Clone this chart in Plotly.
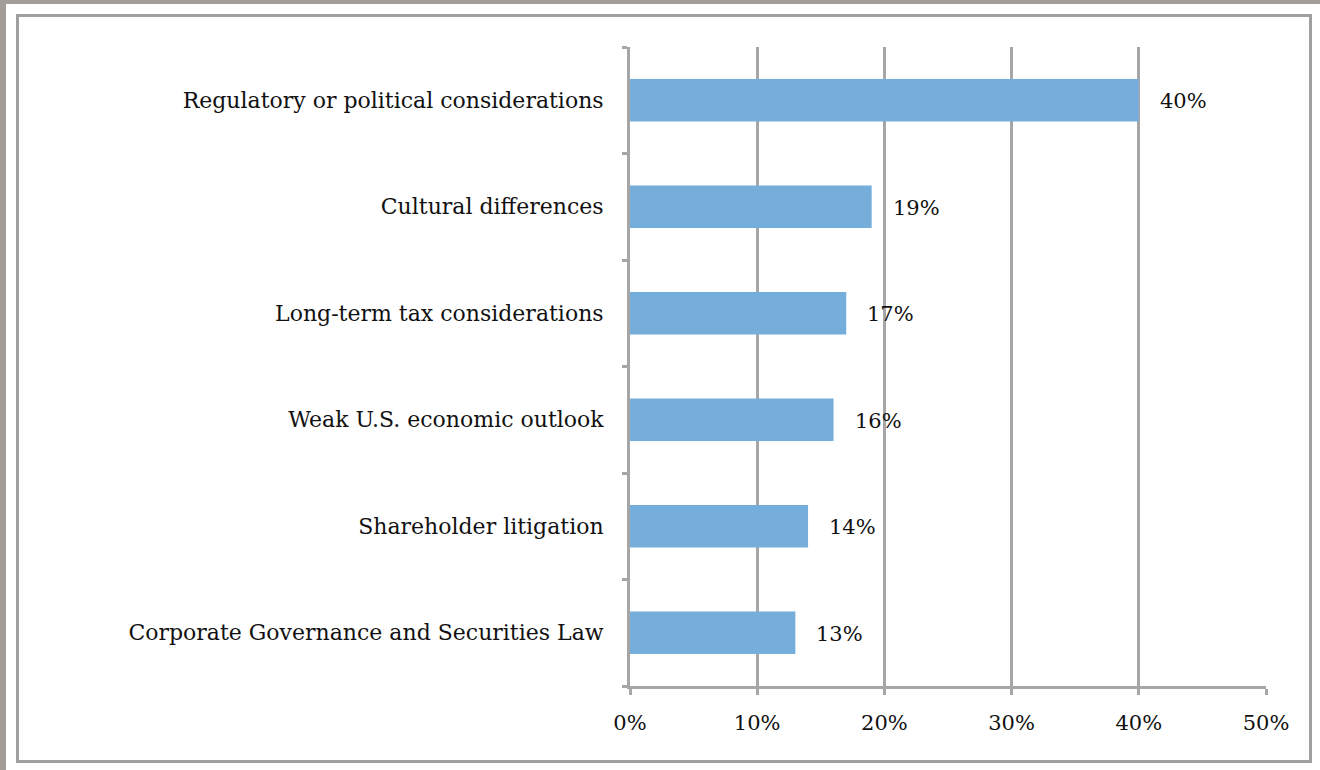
import plotly.graph_objects as go

# Survey reasons, listed top to bottom
categories = [
    "Regulatory or political considerations",
    "Cultural differences",
    "Long-term tax considerations",
    "Weak U.S. economic outlook",
    "Shareholder litigation",
    "Corporate Governance and Securities Law",
]
values = [40, 19, 17, 16, 14, 13]
x_ticks = [0, 10, 20, 30, 40, 50]
x_tick_labels = ["0%", "10%", "20%", "30%", "40%", "50%"]

W, H = 1320, 770
L, R, T, B = 630, 54, 47, 84
pw, ph = W - L - R, H - T - B

def px(x):
    return (x - L) / pw

def py(y):
    return (H - B - y) / ph

FONT = "DejaVu Serif"
GRID = "#a6a6a6"
TEXT = "#111111"

cats_rev = categories[::-1]
vals_rev = values[::-1]

fig = go.Figure()
fig.add_trace(go.Bar(
    x=vals_rev,
    y=cats_rev,
    orientation="h",
    marker=dict(color="#75aedb", line=dict(width=0)),
    width=0.4,
))

# Value labels to the right of each bar
for c, v in zip(cats_rev, vals_rev):
    fig.add_annotation(x=v, y=c, text=f"{v}%", showarrow=False,
                       xanchor="left", xshift=19, yshift=-1,
                       font=dict(family=FONT, size=21, color=TEXT))

# Outer page frame: gray strips at top and left, then a bordered white box
shapes = [
    dict(type="rect", xref="paper", yref="paper",
         x0=px(0), x1=px(W), y0=py(0), y1=py(4),
         fillcolor="#a39c97", line=dict(width=0), layer="below"),
    dict(type="rect", xref="paper", yref="paper",
         x0=px(0), x1=px(6), y0=py(0), y1=py(H),
         fillcolor="#a39c97", line=dict(width=0), layer="below"),
    dict(type="rect", xref="paper", yref="paper",
         x0=px(17.5), x1=px(1310.5), y0=py(15.5), y1=py(761.5),
         fillcolor="rgba(0,0,0,0)", line=dict(color="#a0a0a0", width=3)),
]
fig.update_layout(shapes=shapes)

fig.update_layout(
    width=W, height=H,
    margin=dict(l=L, r=R, t=T, b=B, pad=0),
    paper_bgcolor="white",
    plot_bgcolor="white",
    showlegend=False,
    font=dict(family=FONT, size=21, color=TEXT),
    bargap=0.6,
)
fig.update_xaxes(
    range=[0, 50],
    tickvals=x_ticks,
    ticktext=x_tick_labels,
    showgrid=True, gridcolor=GRID, gridwidth=3,
    showline=True, linecolor=GRID, linewidth=3,
    ticks="outside", tickcolor=GRID, tickwidth=3, ticklen=6,
    ticklabelstandoff=10,
    zeroline=False,
    tickfont=dict(family=FONT, size=21, color=TEXT),
    fixedrange=True,
)
fig.update_yaxes(
    type="category",
    showgrid=False,
    showline=True, linecolor=GRID, linewidth=3,
    ticks="outside", tickson="boundaries", tickcolor=GRID, tickwidth=3, ticklen=5,
    ticklabelstandoff=19,
    tickfont=dict(family=FONT, size=22, color=TEXT),
    fixedrange=True,
)

fig.write_html("out.html")
